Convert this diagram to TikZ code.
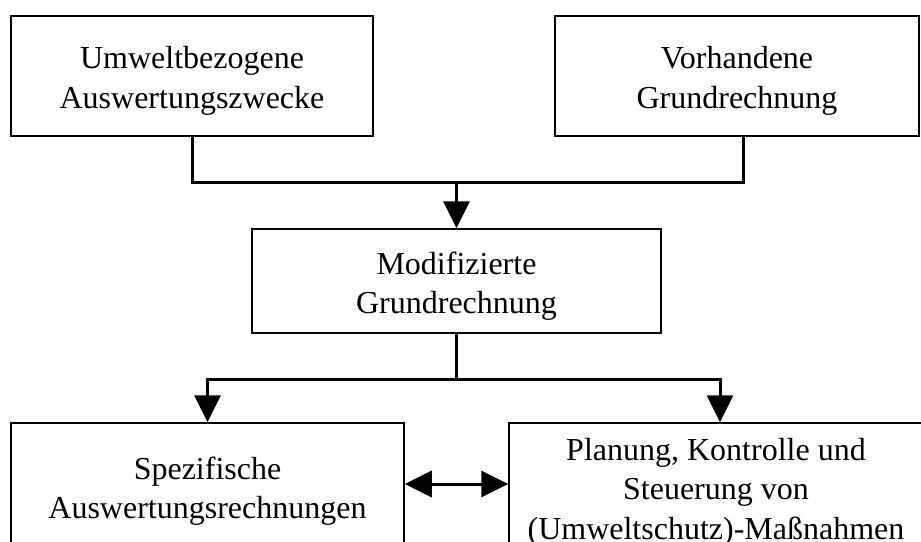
\documentclass[tikz,border=0pt]{standalone}
\usepackage{fontspec}
\setmainfont{Liberation Serif}
\usetikzlibrary{arrows.meta}
\tikzset{
  box/.style={draw=black, line width=1.5pt, rectangle, inner sep=0pt},
  lbl/.style={align=center, inner sep=0pt, font=\fontsize{32}{39.5}\selectfont},
  conn/.style={draw=black, line width=3pt},
  tip/.style={-{Triangle[length=27pt,width=26pt]}},
  dtip/.style={{Triangle[length=27pt,width=26pt]}-{Triangle[length=27pt,width=26pt]}}
}
\begin{document}
\begin{tikzpicture}[x=1pt,y=-1pt]
\useasboundingbox (0,0) rectangle (921,541);
\fill[white] (0,0) rectangle (921,541);
\clip (0,0) rectangle (921,541);
% boxes
\node[box, minimum width=362pt, minimum height=120pt] (b1) at (192,76) {};
\node[lbl] (t1) at (192,81) {Umweltbezogene\\Auswertungszwecke};
\node[box, minimum width=364pt, minimum height=120pt] (b2) at (737,76) {};
\node[lbl] (t2) at (737,81) {Vorhandene\\Grundrechnung};
\node[box, minimum width=409pt, minimum height=104pt] (b3) at (456.5,281) {};
\node[lbl] (t3) at (456.5,286) {Modifizierte\\Grundrechnung};
\node[box, minimum width=393pt, minimum height=137pt] (b4) at (207.5,491.5) {};
\node[lbl] (t4) at (207.5,491) {Spezifische\\Auswertungsrechnungen};
\node[box, minimum width=422pt, minimum height=137pt] (b5) at (720,491.5) {};
\node[lbl] (t5) at (716,492) {Planung, Kontrolle und\\Steuerung von\\(Umweltschutz)-Maßnahmen};
% junctions
\coordinate (j1) at (456.5,182);
\coordinate (j2) at (456.5,379);
% connectors
\draw[conn] (b1.south) |- (j1) -| ([xshift=6pt]b2.south);
\draw[conn,tip] (j1) -- (b3.north);
\draw[conn] (b3.south) -- (j2);
\draw[conn,tip] (j2) -| (b4.north);
\draw[conn,tip] (j2) -| (b5.north);
\draw[conn,dtip] ([yshift=7.5pt]b4.east) -- ([yshift=7.5pt]b5.west);
\end{tikzpicture}
\end{document}
